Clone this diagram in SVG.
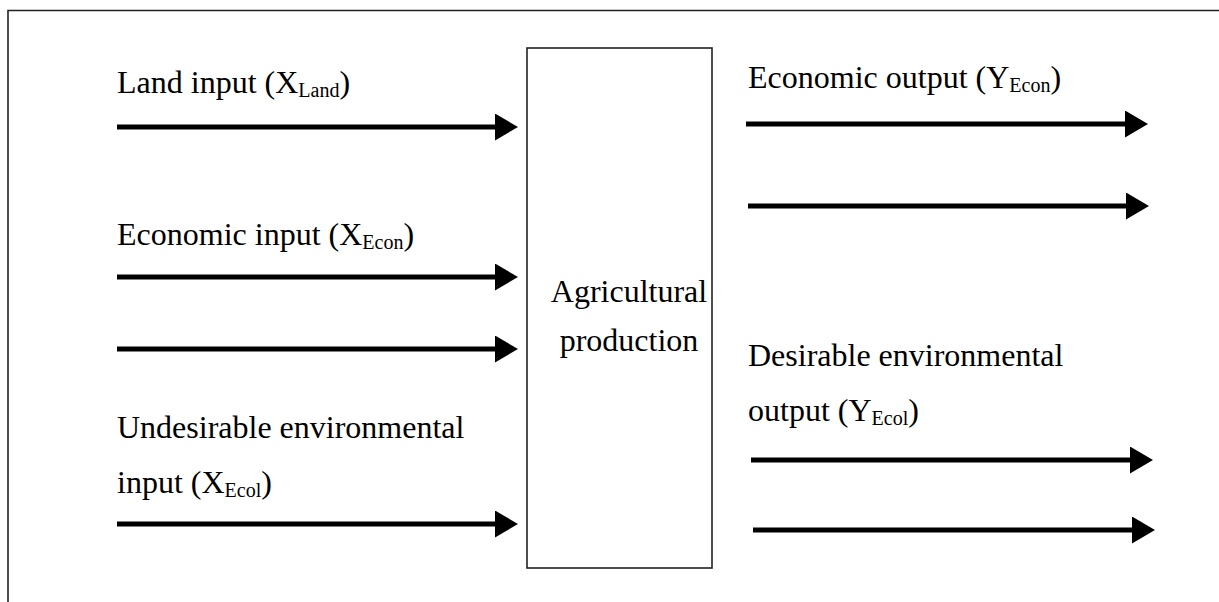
<svg xmlns="http://www.w3.org/2000/svg" width="1219" height="602" viewBox="0 0 1219 602">
<style>
text{font-family:"Liberation Serif","Times New Roman",serif;font-size:32px;fill:#000}
.sub{font-size:20px}
.arr{stroke:#000;stroke-width:5;fill:none;marker-end:url(#ah)}
.frame{stroke:#222;stroke-width:1.6;fill:none}
</style>
<defs>
<marker id="ah" markerUnits="userSpaceOnUse" markerWidth="23" markerHeight="27" refX="13" refY="13.5" orient="auto">
<path d="M0,0 L23,13.5 L0,27 z" fill="#000"/>
</marker>
</defs>
<rect width="1219" height="602" fill="#fff"/>
<path class="frame" d="M8,602 V10.5 H1219"/>
<g id="node-production">
<rect x="527" y="48" width="185" height="520" fill="#fff" stroke="#222" stroke-width="1.6"/>
<text x="629" y="302" text-anchor="middle">Agricultural</text>
<text x="629" y="351" text-anchor="middle">production</text>
</g>
<g id="label-land"><text x="117" y="93">Land input (X<tspan class="sub" dy="4">Land</tspan><tspan dy="-4">)</tspan></text></g>
<g id="label-econ-in"><text x="117" y="245">Economic input (X<tspan class="sub" dy="4">Econ</tspan><tspan dy="-4">)</tspan></text></g>
<g id="label-ecol-in"><text x="117" y="438">Undesirable environmental</text><text x="117" y="493">input (X<tspan class="sub" dy="4">Ecol</tspan><tspan dy="-4">)</tspan></text></g>
<g id="label-econ-out"><text x="748" y="88">Economic output (Y<tspan class="sub" dy="4">Econ</tspan><tspan dy="-4">)</tspan></text></g>
<g id="label-ecol-out"><text x="748" y="366">Desirable environmental</text><text x="748" y="421">output (Y<tspan class="sub" dy="4">Ecol</tspan><tspan dy="-4">)</tspan></text></g>
<g id="connectors">
<path class="arr" d="M117,127 H508"/>
<path class="arr" d="M117,277 H508"/>
<path class="arr" d="M117,349 H508"/>
<path class="arr" d="M117,524 H508"/>
<path class="arr" d="M746,124 H1138"/>
<path class="arr" d="M748,206 H1139"/>
<path class="arr" d="M751,460 H1143"/>
<path class="arr" d="M753,530 H1145"/>
</g>
</svg>
